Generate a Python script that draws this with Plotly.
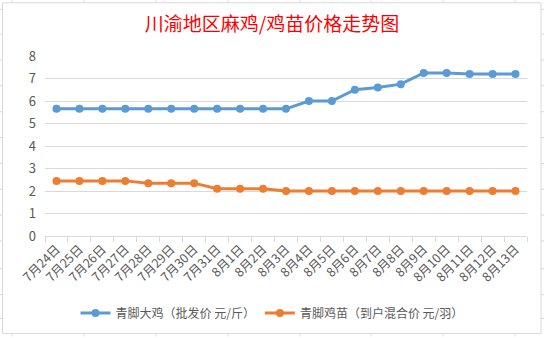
import plotly.graph_objects as go

categories = ["7月24日", "7月25日", "7月26日", "7月27日", "7月28日", "7月29日", "7月30日",
              "7月31日", "8月1日", "8月2日", "8月3日", "8月4日", "8月5日", "8月6日",
              "8月7日", "8月8日", "8月9日", "8月10日", "8月11日", "8月12日", "8月13日"]
big_chicken = [5.65, 5.65, 5.65, 5.65, 5.65, 5.65, 5.65, 5.65, 5.65, 5.65, 5.65,
               6.0, 6.0, 6.5, 6.6, 6.75, 7.25, 7.25, 7.2, 7.2, 7.2]
chick = [2.45, 2.45, 2.45, 2.45, 2.35, 2.35, 2.35, 2.1, 2.1, 2.1, 2.0,
         2.0, 2.0, 2.0, 2.0, 2.0, 2.0, 2.0, 2.0, 2.0, 2.0]
series_names = ["青脚大鸡（批发价 元/斤）", "青脚鸡苗（到户混合价 元/羽）"]
title_text = "川渝地区麻鸡/鸡苗价格走势图"

W, H = 544, 338
ML, MR, MT, MB = 45, 17, 56, 101

FONT = "Microsoft YaHei, Noto Sans CJK SC, sans-serif"
GRAY = "#595959"

fig = go.Figure()
fig.add_trace(go.Scatter(x=categories, y=big_chicken, name=series_names[0],
                         mode="lines+markers",
                         line=dict(color="#5B9BD5", width=3),
                         marker=dict(color="#5B9BD5", size=8)))
fig.add_trace(go.Scatter(x=categories, y=chick, name=series_names[1],
                         mode="lines+markers",
                         line=dict(color="#ED7D31", width=3),
                         marker=dict(color="#ED7D31", size=8)))

pw = W - ML - MR
ph = H - MT - MB
def px(x):
    return (x - ML) / pw
def py(y):
    return 1 - (y - MT) / ph

shapes = []
# chart border
shapes.append(dict(type="rect", xref="paper", yref="paper",
                   x0=px(2.5), x1=px(541), y0=py(335), y1=py(2.5),
                   line=dict(color="#D9D9D9", width=1), layer="below"))
# spreadsheet cell lines around chart
for cx in [12, 84, 156, 228, 300, 371, 443, 515]:
    shapes.append(dict(type="line", xref="paper", yref="paper",
                       x0=px(cx), x1=px(cx), y0=py(0), y1=py(2.5),
                       line=dict(color="#D9D9D9", width=1)))
    shapes.append(dict(type="line", xref="paper", yref="paper",
                       x0=px(cx), x1=px(cx), y0=py(335), y1=py(338),
                       line=dict(color="#D9D9D9", width=1)))
for ry in [9, 34, 60, 86, 112, 138, 164, 190, 216, 242, 270, 296, 320]:
    shapes.append(dict(type="line", xref="paper", yref="paper",
                       x0=px(0), x1=px(2.5), y0=py(ry), y1=py(ry),
                       line=dict(color="#D9D9D9", width=1)))
    shapes.append(dict(type="line", xref="paper", yref="paper",
                       x0=px(541), x1=px(544), y0=py(ry), y1=py(ry),
                       line=dict(color="#D9D9D9", width=1)))

fig.update_layout(
    width=W, height=H,
    margin=dict(l=ML, r=MR, t=MT, b=MB),
    paper_bgcolor="white", plot_bgcolor="white",
    font=dict(family=FONT, color=GRAY, size=12),
    title=dict(text=title_text, x=0.5, xref="container", xanchor="center",
               y=1 - 24 / H, yref="container", yanchor="middle",
               font=dict(family=FONT, color="#FF0000", size=19)),
    showlegend=True,
    legend=dict(orientation="h", x=(272 - ML) / pw, xanchor="center", y=py(313), yanchor="middle",
                xref="paper", yref="paper",
                font=dict(family=FONT, color=GRAY, size=12),
                itemwidth=30, traceorder="normal"),
    xaxis=dict(type="category", tickangle=-45, showgrid=False,
               showline=True, linecolor="#D9D9D9", linewidth=1,
               ticks="outside", ticklen=5, tickcolor="#D9D9D9", tickson="boundaries",
               tickfont=dict(family=FONT, color=GRAY, size=12.5),
               range=[-0.5, len(categories) - 0.5], fixedrange=True),
    yaxis=dict(range=[0, 8], dtick=1, tick0=0, showgrid=True, gridcolor="#D9D9D9",
               gridwidth=1, zeroline=False, showline=False,
               ticks="", ticklabelstandoff=8,
               tickfont=dict(family=FONT, color=GRAY, size=13)),
    shapes=shapes,
)

fig.write_html("out.html")
